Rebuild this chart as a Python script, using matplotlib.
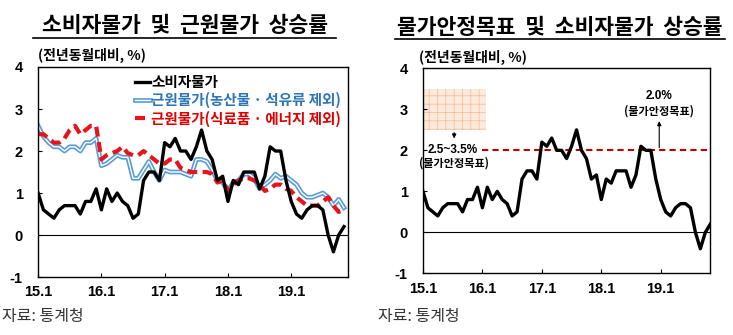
import matplotlib
matplotlib.use('Agg')
import matplotlib.pyplot as plt
import matplotlib.patheffects as pe
from matplotlib.patches import Rectangle

plt.rcParams['font.family'] = ['Noto Sans CJK KR', 'DejaVu Sans']
plt.rcParams['hatch.linewidth'] = 0.5

# 월별 전년동월대비 상승률 (2015.1 ~ 2019.11)
cpi = [1.0, 0.6, 0.5, 0.4, 0.6, 0.7, 0.7, 0.7, 0.5, 0.8, 0.8, 1.1,
       0.6, 1.1, 0.8, 1.0, 0.8, 0.7, 0.4, 0.5, 1.3, 1.5, 1.5, 1.3,
       2.2, 2.1, 2.3, 2.0, 2.0, 1.8, 2.1, 2.5, 2.0, 1.8, 1.3, 1.4,
       0.8, 1.3, 1.2, 1.5, 1.5, 1.5, 1.1, 1.4, 2.1, 2.0, 2.0, 1.3,
       0.8, 0.5, 0.4, 0.6, 0.7, 0.7, 0.6, 0.0, -0.4, 0.0, 0.2]
core_agri_oil = [2.6, 2.35, 2.2, 2.1, 2.1, 2.0, 2.1, 2.1, 2.0, 2.2, 2.2, 2.3,
                 1.65, 1.7, 1.8, 1.9, 1.85, 1.85, 1.35, 1.35, 1.55, 1.75, 1.5, 1.3,
                 1.55, 1.5, 1.5, 1.5, 1.45, 1.4, 1.8, 1.8, 1.75, 1.55, 1.3, 1.25,
                 1.05, 1.25, 1.3, 1.45, 1.45, 1.35, 1.1, 1.2, 1.3, 1.45, 1.35, 1.4,
                 1.3, 1.2, 1.0, 0.9, 0.9, 0.95, 1.0, 0.9, 0.7, 0.85, 0.65]
core_food_energy = [2.4, 2.4, 2.3, 2.2, 2.2, 2.3, 2.5, 2.6, 2.4, 2.5, 2.6, 2.6,
                    1.8, 1.9, 1.95, 2.0, 2.1, 1.95, 1.9, 1.9, 2.0, 1.9, 1.8, 1.7,
                    1.7, 1.8, 1.8, 1.6, 1.55, 1.5, 1.5, 1.5, 1.5, 1.45, 1.25, 1.3,
                    1.05, 1.2, 1.3, 1.35, 1.35, 1.3, 1.2, 1.05, 1.1, 1.2, 1.2, 1.1,
                    1.05, 0.9, 0.8, 0.7, 0.7, 0.7, 0.8, 0.9, 0.7, 0.55, 0.6]
months = list(range(len(cpi)))
tick_pos = [0, 12, 24, 36, 48]
tick_labels = ['15.1', '16.1', '17.1', '18.1', '19.1']
target = 2.0
target_start = 12
old_target = (2.5, 3.5)

tickfont = dict(family='Liberation Sans', weight='bold', size=10.5)

fig = plt.figure(figsize=(7.33, 3.35), dpi=100)
ax1 = fig.add_axes([0.052, 0.173, 0.423, 0.627])
ax2 = fig.add_axes([0.577, 0.184, 0.392, 0.612])


def style_axis(ax, xmax):
    ax.set_xlim(0, xmax)
    ax.set_ylim(-1, 4)
    ax.set_yticks(range(-1, 5))
    ax.set_xticks(tick_pos)
    ax.set_xticklabels(tick_labels, fontdict=tickfont)
    ax.set_yticklabels([str(v) for v in range(-1, 5)], fontdict=tickfont)
    ax.tick_params(direction='in', length=3, width=0.8, pad=6)
    ax.tick_params(axis='y', pad=11)
    ax.axhline(0, color='black', lw=0.8)
    for s in ax.spines.values():
        s.set_linewidth(1.0)


# 왼쪽: 소비자물가 및 근원물가
style_axis(ax1, 58.8)
ax1.plot(months, core_agri_oil, color='white', lw=1.0,
         path_effects=[pe.Stroke(linewidth=3.4, foreground='#5b9bd5'), pe.Normal()],
         label='근원물가(농산물 · 석유류 제외)')
ax1.plot(months, core_food_energy, color='#e8141c', lw=3.0, dashes=(2.4, 1.3),
         label='근원물가(식료품 · 에너지 제외)')
ax1.plot(months, cpi, color='black', lw=2.4, label='소비자물가')
h, l = ax1.get_legend_handles_labels()
order = [2, 0, 1]
leg = ax1.legend([h[i] for i in order], [l[i] for i in order], loc='upper left',
                 bbox_to_anchor=(0.27, 1.03), frameon=False, handlelength=1.0,
                 handletextpad=0.1, labelspacing=0.15,
                 prop=dict(family=['Noto Sans CJK KR'], weight='bold', size=10.5))
for txt, c in zip(leg.get_texts(), ['black', '#2e75b6', '#e00000']):
    txt.set_color(c)

# 오른쪽: 물가안정목표 및 소비자물가
style_axis(ax2, 58)
ax2.add_patch(Rectangle((0, old_target[0]), 12.8, old_target[1] - old_target[0],
                        facecolor='#fdeadc', edgecolor='#f6b994', hatch='++', lw=0))
ax2.plot([target_start, 58], [target, target], color='#c00000', lw=1.5, dashes=(3, 2))
ax2.plot(months, cpi, color='black', lw=2.4)
ax2.annotate('', xy=(6.3, 2.22), xytext=(6.3, 2.5),
             arrowprops=dict(arrowstyle='-|>', color='black', lw=0.8, mutation_scale=6))
ax2.text(6.0, 2.0, '2.5~3.5%', ha='center', va='center', fontsize=8.5,
         family=['Liberation Sans'], weight='bold')
ax2.text(6.3, 1.68, '(물가안정목표)', ha='center', va='center', fontsize=8, weight='bold')
ax2.annotate('', xy=(47.7, 2.78), xytext=(47.7, 2.0),
             arrowprops=dict(arrowstyle='-|>', color='black', lw=0.8, mutation_scale=6))
ax2.text(47.7, 3.33, '2.0%', ha='center', va='center', fontsize=8.5,
         family=['Liberation Sans'], weight='bold')
ax2.text(47.7, 2.97, '(물가안정목표)', ha='center', va='center', fontsize=8, weight='bold')

# 제목, 단위, 자료
fig.text(185 / 733, 1 - 26 / 335, '소비자물가  및  근원물가  상승률', ha='center', va='center',
         fontsize=15.5, weight='bold')
fig.text(560 / 733, 1 - 27 / 335, '물가안정목표  및  소비자물가  상승률', ha='center', va='center',
         fontsize=15.5, weight='bold')
fig.add_artist(plt.Line2D([33 / 733, 336 / 733], [1 - 38 / 335] * 2, color='black', lw=1.2))
fig.add_artist(plt.Line2D([395 / 733, 725 / 733], [1 - 39 / 335] * 2, color='black', lw=1.2))
fig.text(38 / 733, 1 - 55 / 335, '(전년동월대비, %)', ha='left', va='center',
         fontsize=10, weight='bold')
fig.text(419 / 733, 1 - 57 / 335, '(전년동월대비, %)', ha='left', va='center',
         fontsize=10, weight='bold')
fig.text(2 / 733, 1 - 316 / 335, '자료: 통계청', ha='left', va='center', fontsize=11.5,
         color='#333333')
fig.text(378 / 733, 1 - 316 / 335, '자료: 통계청', ha='left', va='center', fontsize=11.5,
         color='#333333')

fig.savefig('out.png', dpi=100)
